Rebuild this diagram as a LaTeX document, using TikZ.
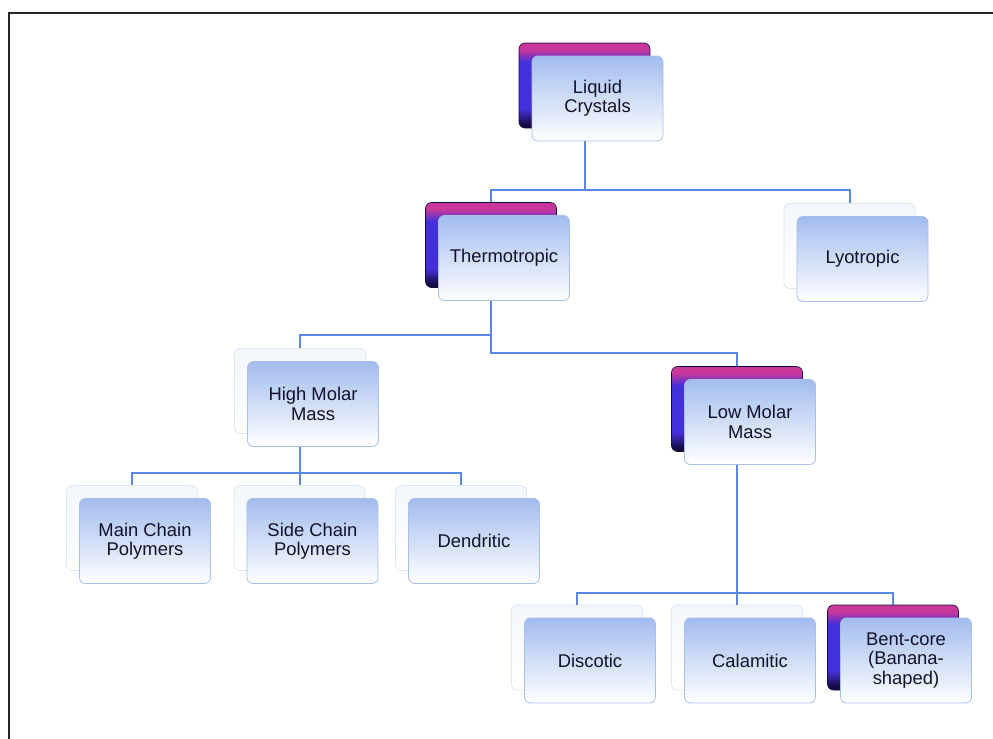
\documentclass[tikz,border=0pt]{standalone}
\usepackage{fontspec}
\setmainfont{Liberation Sans}
\usepackage{tikz}
\usetikzlibrary{
  positioning,
  calc
}
\definecolor{cardtop}{HTML}{A2BCEF}
\definecolor{cardmid}{HTML}{DDE8FA}
\definecolor{cardline}{HTML}{A9BFE6}
\definecolor{hottop}{HTML}{C8389A}
\definecolor{hotmid}{HTML}{4430DA}
\definecolor{hotbot}{HTML}{120A40}
\definecolor{palefill}{HTML}{F3F7FD}
\definecolor{paleline}{HTML}{DCE6F4}
\definecolor{linkblue}{HTML}{5A86E4}
\definecolor{textnavy}{HTML}{12122A}
\pgfdeclareverticalshading{hotshade}{100bp}{%
  color(0bp)=(hotbot); color(27bp)=(hotbot); color(36bp)=(hotmid);
  color(64bp)=(hotmid); color(71bp)=(hottop); color(100bp)=(hottop)}
\tikzset{
  card/.style={
    rounded corners=3pt,
    minimum width=65.5pt,
    minimum height=42.5pt,
    inner sep=0pt,
    align=center,
    draw=cardline,
    line width=0.4pt,
    top color=cardtop,
    middle color=cardmid,
    bottom color=white,
    text=textnavy,
    font=\fontsize{9.2}{9.7}\selectfont
  },
  pale card/.style={
    rounded corners=3pt,
    minimum width=65.5pt,
    minimum height=42.5pt,
    draw=paleline,
    line width=0.4pt,
    top color=palefill,
    bottom color=white
  },
  hot card/.style={
    rounded corners=3pt,
    minimum width=65.5pt,
    minimum height=42.5pt,
    draw=hotbot,
    line width=0.3pt,
    shading=hotshade
  },
  link/.style={
    draw=linkblue,
    line width=1pt
  },
  frame/.style={
    draw=black!85,
    line width=0.8pt
  }
}

\begin{document}
\begin{tikzpicture}[x=0.5pt,y=-0.5pt]
  \useasboundingbox (0,0) rectangle (993,739);
  \draw[frame] (9,739) -- (9,13) -- (993,13);

  \node[hot card]  (liquid-crystals-b) at (584.5,85.5) {};
  \node[hot card]  (thermotropic-b)    at (491,245) {};
  \node[pale card] (lyotropic-b)       at (849.5,246) {};
  \node[pale card] (high-molar-b)      at (300,391) {};
  \node[hot card]  (low-molar-b)       at (737,409) {};
  \node[pale card] (main-chain-b)      at (132,528) {};
  \node[pale card] (side-chain-b)      at (299.5,528) {};
  \node[pale card] (dendritic-b)       at (461,528) {};
  \node[pale card] (discotic-b)        at (577,647.5) {};
  \node[pale card] (calamitic-b)       at (737,647.5) {};
  \node[hot card]  (bent-core-b)       at (893,647.5) {};

  \node[card] (liquid-crystals) at ([shift={(13,13)}]liquid-crystals-b.center) {Liquid\\Crystals};
  \node[card] (thermotropic)    at ([shift={(13,13)}]thermotropic-b.center) {Thermotropic};
  \node[card] (lyotropic)       at ([shift={(13,13)}]lyotropic-b.center) {Lyotropic};
  \node[card] (high-molar)      at ([shift={(13,13)}]high-molar-b.center) {High Molar\\Mass};
  \node[card] (low-molar)       at ([shift={(13,13)}]low-molar-b.center) {Low Molar\\Mass};
  \node[card] (main-chain)      at ([shift={(13,13)}]main-chain-b.center) {Main Chain\\Polymers};
  \node[card] (side-chain)      at ([shift={(13,13)}]side-chain-b.center) {Side Chain\\Polymers};
  \node[card] (dendritic)       at ([shift={(13,13)}]dendritic-b.center) {Dendritic};
  \node[card] (discotic)        at ([shift={(13,13)}]discotic-b.center) {Discotic};
  \node[card] (calamitic)       at ([shift={(13,13)}]calamitic-b.center) {Calamitic};
  \node[card] (bent-core)       at ([shift={(13,13)}]bent-core-b.center) {Bent-core\\(Banana-\\shaped)};

  \coordinate (bus-liquid) at (0,190);
  \coordinate (bus-high)   at (0,335);
  \coordinate (bus-low)    at (0,353);
  \coordinate (bus-poly)   at (0,473);
  \coordinate (bus-shape)  at (0,593);

  \path[link] (liquid-crystals-b |- liquid-crystals.south) -- (liquid-crystals-b |- bus-liquid) -| (thermotropic-b.north)
              (liquid-crystals-b |- bus-liquid) -| (lyotropic-b.north);
  \path[link] (thermotropic-b |- thermotropic.south) -- (thermotropic-b |- bus-low) -| (low-molar-b.north)
              (thermotropic-b |- bus-high) -| (high-molar-b.north);
  \path[link] (high-molar-b |- high-molar.south) -- (high-molar-b |- bus-poly) -| (main-chain-b.north)
              (high-molar-b |- bus-poly) -| (side-chain-b.north)
              (high-molar-b |- bus-poly) -| (dendritic-b.north);
  \path[link] (low-molar-b |- low-molar.south) -- (low-molar-b |- bus-shape) -| (discotic-b.north)
              (low-molar-b |- bus-shape) -| (calamitic-b.north)
              (low-molar-b |- bus-shape) -| (bent-core-b.north);
\end{tikzpicture}
\end{document}
